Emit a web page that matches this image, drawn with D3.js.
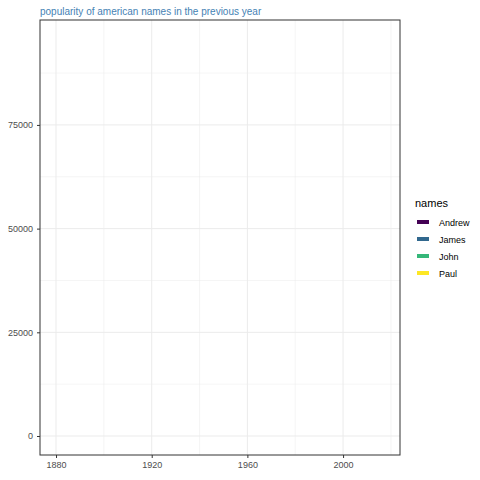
<!DOCTYPE html>
<html><head><meta charset="utf-8">
<script src="https://cdn.jsdelivr.net/npm/d3@7"></script>
<style>body{margin:0;background:#fff}svg{font-family:"Liberation Sans",Arial,sans-serif}</style>
</head><body><svg id="c" width="480" height="480"></svg>
<script>
const names = ["Andrew","James","John","Paul"];
const colors = ["#440154","#31688E","#35B779","#FDE725"];
const xTicks = [1880,1920,1960,2000];
const xMinor = [1900,1940,1980,2020];
const yTicks = [0,25000,50000,75000];
const yMinor = [12500,37500,62500,87500];
// no lines are visible in the reference frame
const series = {Andrew:[],James:[],John:[],Paul:[]};

const svg = d3.select("#c");
const L=40,R=400,T=20,B=455;
const x = d3.scaleLinear().domain([1873.3,2023.8]).range([L,R]);
const y = d3.scaleLinear().domain([-4580,100300]).range([B,T]);
const g = svg.append("g");
g.selectAll(".mx").data(xMinor).join("line").attr("x1",d=>x(d)).attr("x2",d=>x(d)).attr("y1",T).attr("y2",B).attr("stroke","#ebebeb").attr("stroke-width",0.5);
g.selectAll(".my").data(yMinor).join("line").attr("y1",d=>y(d)).attr("y2",d=>y(d)).attr("x1",L).attr("x2",R).attr("stroke","#ebebeb").attr("stroke-width",0.5);
g.selectAll(".gx").data(xTicks).join("line").attr("x1",d=>x(d)).attr("x2",d=>x(d)).attr("y1",T).attr("y2",B).attr("stroke","#ebebeb").attr("stroke-width",1);
g.selectAll(".gy").data(yTicks).join("line").attr("y1",d=>y(d)).attr("y2",d=>y(d)).attr("x1",L).attr("x2",R).attr("stroke","#ebebeb").attr("stroke-width",1);
const line = d3.line().x(d=>x(d[0])).y(d=>y(d[1]));
names.forEach((n,i)=>{ if(series[n].length) g.append("path").attr("d",line(series[n])).attr("fill","none").attr("stroke",colors[i]).attr("stroke-width",2); });
svg.append("rect").attr("x",L).attr("y",T).attr("width",R-L).attr("height",B-T).attr("fill","none").attr("stroke","#333").attr("stroke-width",1);
const xa = svg.append("g").attr("transform",`translate(0,${B})`).call(d3.axisBottom(x).tickValues(xTicks).tickSize(3).tickPadding(4).tickFormat(d3.format("d")));
const ya = svg.append("g").attr("transform",`translate(${L},0)`).call(d3.axisLeft(y).tickValues(yTicks).tickSize(3).tickPadding(4).tickFormat(d3.format("d")));
[xa,ya].forEach(a=>{a.select(".domain").remove();a.selectAll("line").attr("stroke","#333");a.selectAll("text").attr("fill","#4d4d4d").attr("font-size","9px").attr("font-family","Liberation Sans,Arial");});
svg.append("text").attr("x",40).attr("y",15).attr("fill","#4682b4").attr("font-size","10px").text("popularity of american names in the previous year");
svg.append("text").attr("x",415).attr("y",207).attr("font-size","11px").attr("fill","#000").text("names");
const lg = svg.selectAll(".lg").data(names).join("g").attr("transform",(d,i)=>`translate(417,${222+i*17})`);
lg.append("line").attr("x1",0).attr("x2",12).attr("stroke",(d,i)=>colors[i]).attr("stroke-width",4);
lg.append("text").attr("x",22).attr("y",3.5).attr("font-size","9px").attr("fill","#000").text(d=>d);
</script></body></html>
